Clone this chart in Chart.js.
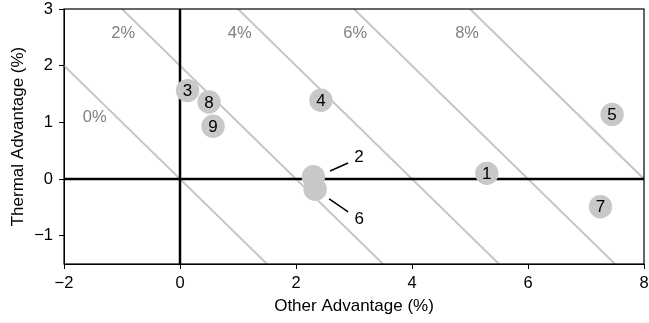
<!DOCTYPE html>
<html><head><meta charset="utf-8">
<script src="https://cdn.jsdelivr.net/npm/chart.js@4.4.1/dist/chart.umd.min.js"></script>
<style>html,body{margin:0;padding:0;background:#fff;}#wrap{width:649px;height:323px;}</style>
</head><body><div id="wrap"><canvas id="c" width="649" height="323"></canvas></div>
<script>
// ---- data ----
const pointLabels = ['1','2','3','4','5','6','7','8','9'];
const otherAdv   = [5.29, 2.30, 0.13, 2.43, 7.45, 2.33, 7.25, 0.50, 0.57];
const thermalAdv = [0.10, 0.04, 1.56, 1.39, 1.14, -0.18, -0.49, 1.36, 0.93];
const calloutLabels = ['2','6'];
const isoLevels = [0, 2, 4, 6, 8];
const isoLabels = ['0%', '2%', '4%', '6%', '8%'];
const isoLabelX = [-1.47, -0.98, 1.03, 3.02, 4.95];
const isoLabelY = [1.08, 2.57, 2.57, 2.57, 2.57];
const xTicks = [-2, 0, 2, 4, 6, 8];
const yTicks = [-1, 0, 1, 2, 3];
const xRange = [-2, 8];
const yRange = [-1.5, 3];

const FAM = "'Liberation Sans', Arial, Helvetica, sans-serif";
const fmt = v => (v < 0 ? '\u2212' + Math.abs(v) : String(v));

const datasets = [];
datasets.push({
  label: 'points',
  data: otherAdv.map((x, i) => ({x: x, y: thermalAdv[i]})),
  pointRadius: 11.7, pointHoverRadius: 11.7,
  pointBackgroundColor: '#c8c8c8', pointBorderColor: '#c8c8c8', pointBorderWidth: 0,
  showLine: false, order: 0
});
datasets.push({
  label: 'xaxis0', data: [{x: xRange[0], y: 0}, {x: xRange[1], y: 0}],
  showLine: true, borderColor: '#000', borderWidth: 2.5, pointRadius: 0, order: 1
});
datasets.push({
  label: 'yaxis0', data: [{x: 0, y: yRange[0]}, {x: 0, y: yRange[1]}],
  showLine: true, borderColor: '#000', borderWidth: 2.5, pointRadius: 0, order: 1
});
isoLevels.forEach(c => {
  datasets.push({
    label: 'iso' + c,
    data: [{x: c - yRange[1], y: yRange[1]}, {x: c - yRange[0], y: yRange[0]}],
    showLine: true, borderColor: '#c6c6c6', borderWidth: 2, pointRadius: 0, order: 2
  });
});

const decor = {
  id: 'decor',
  afterDatasetsDraw(chart) {
    const {ctx, chartArea: a, scales: {x, y}} = chart;
    ctx.save();
    ctx.strokeStyle = '#000'; ctx.lineWidth = 1.2;
    ctx.strokeRect(a.left, a.top, a.right - a.left, a.bottom - a.top);
    ctx.fillStyle = '#808080';
    ctx.font = '16.5px ' + FAM;
    ctx.textAlign = 'center'; ctx.textBaseline = 'middle';
    isoLabels.forEach((t, i) => {
      ctx.fillText(t, x.getPixelForValue(isoLabelX[i]), y.getPixelForValue(isoLabelY[i]));
    });
    const meta = chart.getDatasetMeta(0);
    ctx.fillStyle = '#000';
    ctx.font = '17px ' + FAM;
    pointLabels.forEach((t, i) => {
      const el = meta.data[i];
      if (calloutLabels.includes(t)) {
        const up = (t === '2');
        const s = up ? [16.7, -5.7, 34.7, -13.7, 45.7, -19.7] : [14, 9.7, 33, 22.7, 44, 29.7];
        ctx.strokeStyle = '#000'; ctx.lineWidth = 1.5;
        ctx.beginPath();
        ctx.moveTo(el.x + s[0], el.y + s[1]);
        ctx.lineTo(el.x + s[2], el.y + s[3]);
        ctx.stroke();
        ctx.fillText(t, el.x + s[4], el.y + s[5]);
      } else {
        ctx.fillText(t, el.x, el.y + 1);
      }
    });
    ctx.restore();
  }
};

new Chart(document.getElementById('c'), {
  type: 'scatter',
  data: {datasets},
  options: {
    responsive: false, animation: false, devicePixelRatio: 1,
    layout: {autoPadding: false, padding: {top: 9, right: 5, left: 0, bottom: 0}},
    plugins: {legend: {display: false}, tooltip: {enabled: false}},
    scales: {
      x: {
        type: 'linear', min: xRange[0], max: xRange[1],
        afterBuildTicks: s => { s.ticks = xTicks.map(v => ({value: v})); },
        afterFit: s => { s.height = 59; s.paddingLeft = 0; s.paddingRight = 0; },
        grid: {drawOnChartArea: false, tickLength: 5, tickColor: '#000', tickWidth: 1},
        border: {display: true, color: '#000', width: 1},
        ticks: {color: '#000', font: {size: 16.5, family: FAM}, padding: 5, maxRotation: 0, autoSkip: false, callback: v => fmt(v)},
        title: {display: true, text: 'Other Advantage (%)', color: '#000', font: {size: 17, family: FAM}, padding: {top: 0, bottom: 6}}
      },
      y: {
        type: 'linear', min: yRange[0], max: yRange[1],
        afterBuildTicks: s => { s.ticks = yTicks.map(v => ({value: v})); },
        afterFit: s => { s.width = 64; s.paddingTop = 0; s.paddingBottom = 0; },
        grid: {drawOnChartArea: false, tickLength: 5, tickColor: '#000', tickWidth: 1},
        border: {display: true, color: '#000', width: 1},
        ticks: {color: '#000', font: {size: 16.5, family: FAM}, padding: 6, autoSkip: false, callback: v => fmt(v)},
        title: {display: true, text: 'Thermal Advantage (%)', color: '#000', font: {size: 17, family: FAM}, padding: {top: 8, bottom: 0}}
      }
    }
  },
  plugins: [decor]
});
</script></body></html>
